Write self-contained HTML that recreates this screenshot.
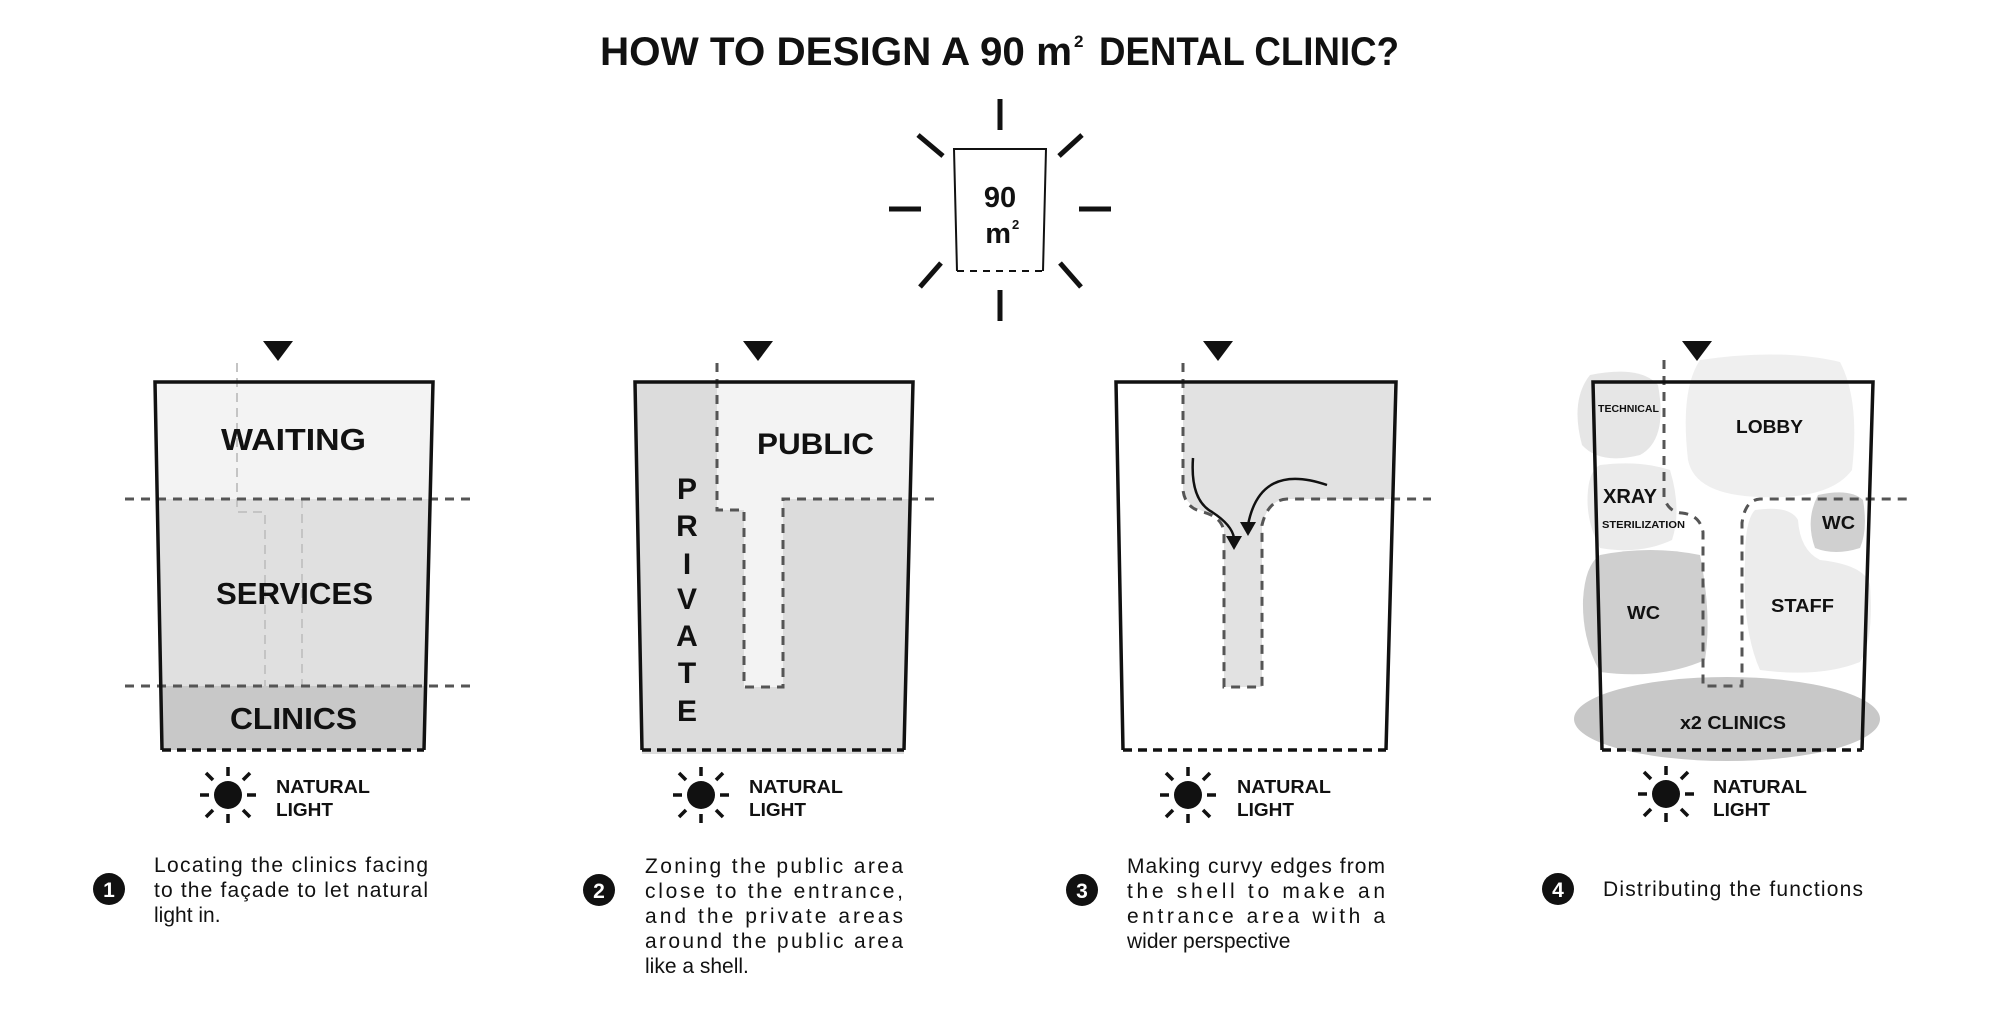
<!DOCTYPE html>
<html><head><meta charset="utf-8"><style>
html,body{margin:0;padding:0;background:#fff;width:2000px;height:1024px;overflow:hidden}
svg{display:block}
text{font-family:"Liberation Sans",sans-serif;fill:#111}
.b{font-weight:bold}
</style></head><body>
<svg width="2000" height="1024" viewBox="0 0 2000 1024" xmlns="http://www.w3.org/2000/svg">
<defs>
<g id="sun">
  <circle cx="0" cy="0" r="14" fill="#111"/>
  <g stroke="#111" stroke-width="3.5" stroke-linecap="butt">
    <line x1="0" y1="-19" x2="0" y2="-28"/><line x1="0" y1="19" x2="0" y2="28"/>
    <line x1="-19" y1="0" x2="-28" y2="0"/><line x1="19" y1="0" x2="28" y2="0"/>
    <line x1="-15" y1="-15" x2="-22" y2="-22"/><line x1="15" y1="-15" x2="22" y2="-22"/>
    <line x1="-15" y1="15" x2="-22" y2="22"/><line x1="15" y1="15" x2="22" y2="22"/>
  </g>
</g>
<g id="tri"><polygon points="-15,0 15,0 0,20" fill="#111"/></g>
</defs>

<!-- Title -->
<text class="b" x="600" y="65" font-size="40" textLength="472" lengthAdjust="spacingAndGlyphs">HOW TO DESIGN A 90 m</text>
<text class="b" x="1074" y="47" font-size="17">2</text>
<text class="b" x="1099" y="65" font-size="40" textLength="300" lengthAdjust="spacingAndGlyphs">DENTAL CLINIC?</text>

<!-- Center icon -->
<polyline points="957,271 954,149 1046,149 1043,271" fill="none" stroke="#111" stroke-width="2"/>
<line x1="957" y1="271" x2="1043" y2="271" stroke="#111" stroke-width="2" stroke-dasharray="7,6"/>
<text class="b" x="1000" y="207" font-size="29" text-anchor="middle">90</text>
<text class="b" x="1011" y="243" font-size="29" text-anchor="end">m</text>
<text class="b" x="1012" y="229" font-size="13">2</text>
<g stroke="#111" stroke-width="5">
<line x1="1000" y1="99" x2="1000" y2="130"/><line x1="1000" y1="290" x2="1000" y2="321"/>
<line x1="889" y1="209" x2="921" y2="209"/><line x1="1079" y1="209" x2="1111" y2="209"/>
<line x1="918" y1="135" x2="943" y2="156"/><line x1="1082" y1="135" x2="1059" y2="156"/>
<line x1="941" y1="263" x2="920" y2="287"/><line x1="1060" y1="263" x2="1081" y2="287"/>
</g>

<!-- Panel 1 -->
<polygon points="155,382 433,382 430,499 157,499" fill="#f3f3f3"/>
<polygon points="157,499 430,499 425,686 161,686" fill="#e0e0e0"/>
<polygon points="161,686 425,686 424,750 162,750" fill="#c8c8c8"/>
<g fill="none" stroke="#c4c4c4" stroke-width="2" stroke-dasharray="9,6">
<polyline points="237,363 237,512 265,512 265,686"/>
<line x1="302" y1="499" x2="302" y2="686"/>
</g>
<g fill="none" stroke="#555" stroke-width="3" stroke-dasharray="9,7">
<line x1="125" y1="499" x2="477" y2="499"/><line x1="125" y1="686" x2="477" y2="686"/>
</g>
<polyline points="162,750 155,382 433,382 424,750" fill="none" stroke="#111" stroke-width="3.5"/>
<line x1="162" y1="750" x2="424" y2="750" stroke="#111" stroke-width="3.5" stroke-dasharray="9,6"/>
<text class="b" x="221" y="450" font-size="31" textLength="145" lengthAdjust="spacingAndGlyphs">WAITING</text>
<text class="b" x="216" y="604" font-size="31" textLength="157" lengthAdjust="spacingAndGlyphs">SERVICES</text>
<text class="b" x="230" y="729" font-size="31" textLength="127" lengthAdjust="spacingAndGlyphs">CLINICS</text>
<use href="#tri" x="278" y="341"/>

<!-- Panel 2 -->
<polygon points="635,382 913,382 904,754 642,754" fill="#dcdcdc"/>
<polygon points="717,384 912,384 910,499 783,499 783,687 744,687 744,510 717,510" fill="#f3f3f3"/>
<g fill="none" stroke="#555" stroke-width="3" stroke-dasharray="9,7">
<polyline points="717,363 717,510 744,510 744,687 783,687 783,499 936,499"/>
</g>
<polyline points="642,750 635,382 913,382 904,750" fill="none" stroke="#111" stroke-width="3.5"/>
<line x1="642" y1="750" x2="904" y2="750" stroke="#111" stroke-width="3.5" stroke-dasharray="9,6"/>
<text class="b" x="757" y="454" font-size="30" textLength="117" lengthAdjust="spacingAndGlyphs">PUBLIC</text>
<g class="b" font-size="30" text-anchor="middle">
<text class="b" x="687" y="499">P</text><text class="b" x="687" y="536">R</text><text class="b" x="687" y="574">I</text>
<text class="b" x="687" y="609">V</text><text class="b" x="687" y="646">A</text><text class="b" x="687" y="683">T</text><text class="b" x="687" y="721">E</text>
</g>
<use href="#tri" x="758" y="341"/>

<!-- Panel 3 -->
<path d="M1183,384 L1394,384 L1391,499 L1287,499 Q1268,500 1262,525 L1262,687 L1224,687 L1224,530 Q1222,515 1205,512 Q1185,505 1183,490 Z" fill="#e2e2e2"/>
<path d="M1183,363 L1183,490 Q1185,508 1203,512 Q1222,517 1224,532 L1224,687 L1262,687 L1262,525 Q1268,500 1287,499 L1431,499" fill="none" stroke="#555" stroke-width="3" stroke-dasharray="9,7"/>
<polyline points="1123,750 1116,382 1396,382 1386,750" fill="none" stroke="#111" stroke-width="3.5"/>
<line x1="1123" y1="750" x2="1386" y2="750" stroke="#111" stroke-width="3.5" stroke-dasharray="9,6"/>
<path d="M1193,458 Q1190,500 1212,512 Q1232,525 1234,538" fill="none" stroke="#111" stroke-width="2.5"/>
<polygon points="1226,536 1242,536 1234,550" fill="#111"/>
<path d="M1327,485 Q1260,462 1248,525" fill="none" stroke="#111" stroke-width="2.5"/>
<polygon points="1240,522 1256,522 1248,536" fill="#111"/>
<use href="#tri" x="1218" y="341"/>

<!-- Panel 4 -->
<path d="M1590,375 Q1640,365 1658,385 Q1668,440 1640,455 Q1600,465 1582,445 Q1570,400 1590,375 Z" fill="#e6e6e6"/>
<path d="M1700,360 Q1780,348 1840,362 Q1860,400 1852,470 Q1830,500 1760,497 Q1695,495 1688,460 Q1680,390 1700,360 Z" fill="#efefef"/>
<path d="M1600,465 Q1640,460 1670,470 Q1682,510 1672,540 Q1640,555 1600,548 Q1585,520 1588,490 Q1590,470 1600,465 Z" fill="#ebebeb"/>
<path d="M1600,555 Q1650,545 1700,555 Q1712,615 1705,660 Q1660,680 1600,672 Q1582,640 1583,600 Q1585,565 1600,555 Z" fill="#cfcfcf"/>
<path d="M1818,495 Q1850,488 1863,500 Q1868,530 1860,548 Q1835,556 1815,548 Q1805,520 1818,495 Z" fill="#d0d0d0"/>
<path d="M1755,510 Q1790,505 1798,520 Q1800,550 1820,560 Q1865,565 1870,585 Q1874,640 1860,662 Q1820,678 1760,670 Q1742,630 1745,560 Q1745,520 1755,510 Z" fill="#ececec"/>
<ellipse cx="1727" cy="719" rx="153" ry="42" fill="#c8c8c8"/>
<path d="M1664,360 L1664,497 Q1668,512 1682,513 Q1700,515 1703,532 L1703,686 L1742,686 L1742,523 Q1745,500 1760,499 L1907,499" fill="none" stroke="#555" stroke-width="3" stroke-dasharray="9,7"/>
<polyline points="1602,750 1593,382 1873,382 1862,750" fill="none" stroke="#111" stroke-width="3.5"/>
<line x1="1602" y1="750" x2="1862" y2="750" stroke="#111" stroke-width="3.5" stroke-dasharray="9,6"/>
<text class="b" x="1598" y="412" font-size="10" textLength="61" lengthAdjust="spacingAndGlyphs">TECHNICAL</text>
<text class="b" x="1736" y="433" font-size="18" textLength="67" lengthAdjust="spacingAndGlyphs">LOBBY</text>
<text class="b" x="1603" y="503" font-size="20" textLength="54" lengthAdjust="spacingAndGlyphs">XRAY</text>
<text class="b" x="1602" y="528" font-size="10" textLength="83" lengthAdjust="spacingAndGlyphs">STERILIZATION</text>
<text class="b" x="1627" y="619" font-size="18" textLength="33" lengthAdjust="spacingAndGlyphs">WC</text>
<text class="b" x="1822" y="529" font-size="18" textLength="33" lengthAdjust="spacingAndGlyphs">WC</text>
<text class="b" x="1771" y="612" font-size="18" textLength="63" lengthAdjust="spacingAndGlyphs">STAFF</text>
<text class="b" x="1680" y="729" font-size="18" textLength="106" lengthAdjust="spacingAndGlyphs">x2 CLINICS</text>
<use href="#tri" x="1697" y="341"/>

<!-- Suns & natural light -->
<use href="#sun" x="228" y="795"/><use href="#sun" x="701" y="795"/><use href="#sun" x="1188" y="795"/><use href="#sun" x="1666" y="794"/>
<g font-size="18">
<text class="b" x="276" y="793" textLength="94" lengthAdjust="spacingAndGlyphs">NATURAL</text><text class="b" x="276" y="816" textLength="57" lengthAdjust="spacingAndGlyphs">LIGHT</text>
<text class="b" x="749" y="793" textLength="94" lengthAdjust="spacingAndGlyphs">NATURAL</text><text class="b" x="749" y="816" textLength="57" lengthAdjust="spacingAndGlyphs">LIGHT</text>
<text class="b" x="1237" y="793" textLength="94" lengthAdjust="spacingAndGlyphs">NATURAL</text><text class="b" x="1237" y="816" textLength="57" lengthAdjust="spacingAndGlyphs">LIGHT</text>
<text class="b" x="1713" y="793" textLength="94" lengthAdjust="spacingAndGlyphs">NATURAL</text><text class="b" x="1713" y="816" textLength="57" lengthAdjust="spacingAndGlyphs">LIGHT</text>
</g>

<!-- Number circles -->
<g>
<circle cx="109" cy="889" r="16" fill="#111"/><text class="b" x="109" y="897" font-size="21" text-anchor="middle" style="fill:#fff">1</text>
<circle cx="599" cy="890" r="16" fill="#111"/><text class="b" x="599" y="898" font-size="21" text-anchor="middle" style="fill:#fff">2</text>
<circle cx="1082" cy="890" r="16" fill="#111"/><text class="b" x="1082" y="898" font-size="21" text-anchor="middle" style="fill:#fff">3</text>
<circle cx="1558" cy="889" r="16" fill="#111"/><text class="b" x="1558" y="897" font-size="21" text-anchor="middle" style="fill:#fff">4</text>
</g>

<!-- Descriptions -->
<g font-size="21">
<text x="154" y="872" textLength="274" lengthAdjust="spacing">Locating the clinics facing</text>
<text x="154" y="897" textLength="274" lengthAdjust="spacing">to the façade to let natural</text>
<text x="154" y="922">light in.</text>

<text x="645" y="873" textLength="258" lengthAdjust="spacing">Zoning the public area</text>
<text x="645" y="898" textLength="258" lengthAdjust="spacing">close to the entrance,</text>
<text x="645" y="923" textLength="258" lengthAdjust="spacing">and the private areas</text>
<text x="645" y="948" textLength="258" lengthAdjust="spacing">around the public area</text>
<text x="645" y="973">like a shell.</text>

<text x="1127" y="873" textLength="258" lengthAdjust="spacing">Making curvy edges from</text>
<text x="1127" y="898" textLength="258" lengthAdjust="spacing">the shell to make an</text>
<text x="1127" y="923" textLength="258" lengthAdjust="spacing">entrance area with a</text>
<text x="1127" y="948">wider perspective</text>

<text x="1603" y="896" textLength="260" lengthAdjust="spacing">Distributing the functions</text>
</g>
</svg>
</body></html>
